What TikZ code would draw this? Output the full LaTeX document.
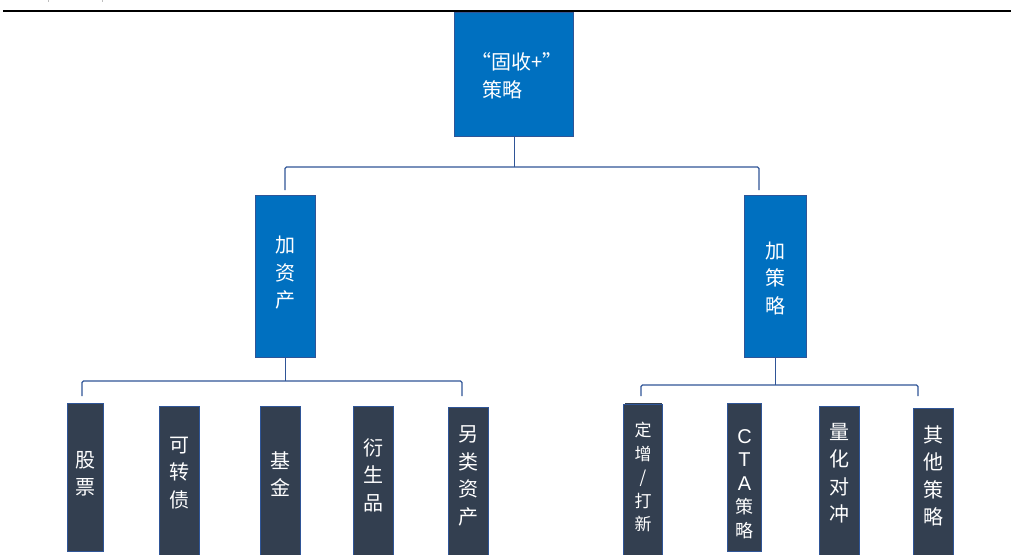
\documentclass[tikz,border=0pt]{standalone}
\usepackage{fontspec}
\newfontfamily\cjk{Noto Sans CJK SC}
\setsansfont{Liberation Sans}
\definecolor{topblue}{HTML}{0070C0}
\definecolor{edgeblue}{HTML}{2F5597}
\definecolor{slate}{HTML}{333F50}
\tikzset{
  box/.style={draw=edgeblue, line width=1.3pt, inner sep=0pt, anchor=north west},
  bluebox/.style={box, fill=topblue},
  darkbox/.style={box, fill=slate, line width=1pt},
  lbl/.style={text=white, inner sep=0pt, align=center, font=\cjk\fontsize{20}{27.5}\selectfont},
  conn/.style={draw=edgeblue, line width=1.3pt, rounded corners=1.5pt},
}
\newcommand{\lat}[1]{{\sffamily\fontsize{20}{23.5}\selectfont #1}}
\begin{document}
\begin{tikzpicture}[x=1pt,y=-1pt]
\useasboundingbox (0,0) rectangle (1011,554);
% header rule and marks
\draw[line width=2pt] (3,11) -- (1011,11);
\draw[gray!50, line width=0.6pt] (48,0) -- (48,2);
\draw[gray!50, line width=0.6pt] (102,0) -- (102,2);
% top
\node[bluebox, minimum width=119pt, minimum height=124pt] (top) at (454,12) {};
\node[lbl, align=left, anchor=west, font=\cjk\fontsize{20}{28}\selectfont] (topt) at (471,76)
  {“固收+”\\\hspace*{11pt}策略};
% middle
\node[bluebox, minimum width=60pt, minimum height=162pt] (l) at (255,195) {};
\node[lbl] (lt) at (l.center |- 0,273) {加\\资\\产};
\node[bluebox, minimum width=62pt, minimum height=162pt] (r) at (744,195) {};
\node[lbl] (rt) at (r.center |- 0,278) {加\\策\\略};
% bottom left
\node[darkbox, minimum width=36pt, minimum height=148pt] (b1) at (67,403) {};
\node[lbl] (b1t) at (b1.center |- 0,474) {股\\票};
\node[darkbox, minimum width=40pt, minimum height=152pt] (b2) at (159,406) {};
\node[lbl] (b2t) at (b2.center |- 0,473) {可\\转\\债};
\node[darkbox, minimum width=40pt, minimum height=152pt] (b3) at (260,406) {};
\node[lbl] (b3t) at (b3.center |- 0,474) {基\\金};
\node[darkbox, minimum width=40pt, minimum height=152pt] (b4) at (353,406) {};
\node[lbl] (b4t) at (b4.center |- 0,475) {衍\\生\\品};
\node[darkbox, minimum width=40pt, minimum height=152pt] (b5) at (448,407) {};
\node[lbl] (b5t) at (b5.center |- 0,476) {另\\类\\资\\产};
% bottom right
\fill[slate] (625,403) rectangle (662,408);
\node[darkbox, minimum width=39pt, minimum height=154pt] (c1) at (623,404) {};
\node[lbl, font=\cjk\fontsize{17}{23.5}\selectfont] (c1t) at (c1.center |- 0,477) {定\\增\\/\\打\\新};
\node[darkbox, minimum width=34pt, minimum height=148pt] (c2) at (727,403) {};
\node[lbl, font=\cjk\fontsize{18}{23.5}\selectfont] (c2t) at (c2.center |- 0,484)
  {\lat{C}\\\lat{T}\\\lat{A}\\策\\略};
\node[darkbox, minimum width=40pt, minimum height=152pt] (c3) at (819,406) {};
\node[lbl] (c3t) at (c3.center |- 0,473) {量\\化\\对\\冲};
\node[darkbox, minimum width=40pt, minimum height=152pt] (c4) at (913,408) {};
\node[lbl] (c4t) at (c4.center |- 0,476) {其\\他\\策\\略};
% connectors level 1
\draw[conn] (top.south) -- (top.south |- 0,167) coordinate (hub);
\coordinate (aL) at (285,190);
\coordinate (aR) at (759,190);
\draw[conn] (aL) |- (hub) -| (aR);
% connectors level 2 left
\draw[conn] (l.south) -- (l.south |- 0,381) coordinate (hubL);
\coordinate (dL1) at (82,396);
\coordinate (dL2) at (462,396);
\draw[conn] (dL1) |- (hubL) -| (dL2);
% connectors level 2 right
\draw[conn] (r.south) -- (r.south |- 0,385) coordinate (hubR);
\coordinate (dR1) at (641,396);
\coordinate (dR2) at (918,396);
\draw[conn] (dR1) |- (hubR) -| (dR2);
\end{tikzpicture}
\end{document}
